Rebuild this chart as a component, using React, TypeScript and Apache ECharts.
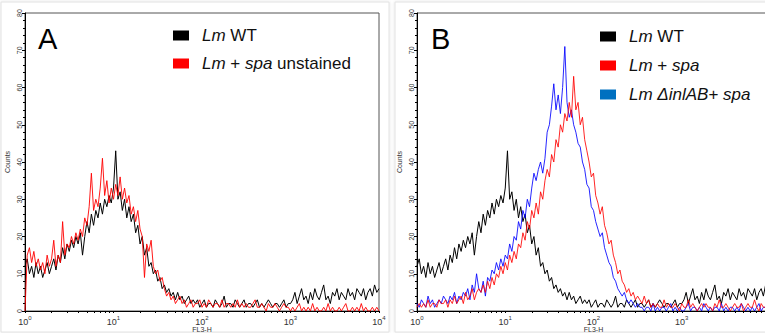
import { useEffect, useRef } from 'react';
import * as echarts from 'echarts';

// channel spacing along the FL3-H axis, in decades (log10 units)
const STEP = 0.025;
const decadesA = [0, 1, 2, 3, 4];
const decadesB = [0, 1, 2, 3];

// Lm WT (same acquisition shown in both panels)
const wtCounts = [
  12, 14, 10, 12, 9, 13, 10, 12, 9, 11,
  13, 10, 12, 14, 11, 15, 13, 17, 14, 18,
  16, 19, 17, 20, 18, 21, 15, 20, 24, 21,
  26, 23, 27, 25, 29, 26, 30, 28, 31, 29,
  33, 43, 30, 32, 27, 30, 25, 28, 24, 26,
  21, 23, 18, 20, 15, 17, 12, 13, 10, 11,
  8, 9, 6, 7, 5, 6, 4, 5, 3, 5,
  3, 4, 2, 3, 4, 2, 3, 2, 3, 1,
  2, 3, 1, 2, 2, 1, 3, 2, 1, 2,
  4, 1, 2, 2, 1, 3, 2, 1, 2, 3,
  1, 2, 2, 1, 2, 3, 1, 2, 1, 2,
  3, 2, 1, 2, 2, 1, 2, 3, 1, 2,
  2, 3, 5, 2, 4, 6, 3, 4, 2, 5,
  3, 6, 4, 3, 5, 7, 3, 4, 2, 5,
  4, 6, 3, 5, 4, 3, 6, 4, 5, 3,
  6, 5, 4, 6, 3, 5, 6, 4, 7, 5,
  6,
];

// Lm + spa unstained (panel A)
const spaUnstainedCounts = [
  0, 15, 17, 13, 16, 12, 14, 11, 13, 10,
  15, 12, 14, 19, 12, 15, 13, 24, 15, 18,
  17, 20, 18, 21, 19, 22, 20, 25, 23, 28,
  37, 27, 30, 28, 33, 41, 31, 35, 29, 33,
  30, 34, 31, 36, 30, 33, 29, 31, 26, 28,
  24, 27, 22, 20, 9, 18, 16, 19, 12, 10,
  11, 8, 9, 6, 4, 5, 3, 4, 2, 3,
  4, 2, 3, 1, 2, 3, 1, 2, 2, 3,
  1, 2, 1, 3, 2, 1, 2, 2, 1, 3,
  1, 2, 2, 1, 2, 1, 3, 1, 2, 1,
  2, 1, 1, 2, 3, 1, 1, 2, 1, 0,
  2, 1, 1, 2, 1, 0, 1, 2, 1, 1,
  0, 1, 0, 1, 2, 0, 1, 0, 1, 0,
  2, 0, 1, 0, 0, 1, 0, 2, 0, 1,
  0, 0, 1, 0, 1, 2, 0, 0, 1, 0,
  1, 0, 2, 0, 1, 0, 0, 1, 0, 1,
  0,
];

// Lm + spa (panel B)
const spaCounts = [
  1, 2, 1, 2, 1, 3, 1, 2, 2, 1,
  3, 2, 2, 3, 1, 3, 2, 4, 2, 3,
  4, 2, 5, 3, 4, 6, 3, 5, 6, 5,
  7, 5, 8, 6, 9, 7, 10, 9, 12, 10,
  13, 11, 15, 13, 16, 14, 18, 17, 21, 19,
  24, 22, 27, 25, 29, 26, 32, 30, 35, 38,
  36, 42, 40, 46, 44, 50, 48, 53, 51, 56,
  52, 63, 54, 56, 50, 52, 46, 43, 40, 36,
  37, 31, 29, 26, 28, 23, 21, 18, 19, 15,
  13, 10, 11, 8, 7, 5, 6, 4, 5, 3,
  4, 3, 2, 4, 2, 3, 1, 2, 1, 2,
  1, 1, 3, 1, 2, 1, 1, 2, 1, 0,
  2, 1, 1, 3, 1, 2, 1, 0, 1, 2,
  1, 2, 1, 1, 0, 2, 1, 3, 1, 1,
  2, 1, 0, 1, 2, 1, 1, 2, 0, 1,
  2, 1, 1, 3, 1, 0, 2, 1, 1, 2,
  1,
];

// Lm ΔinlAB + spa (panel B)
const inlABCounts = [
  2, 1, 3, 2, 1, 4, 2, 3, 1, 2,
  3, 2, 4, 3, 2, 4, 3, 5, 2, 4,
  3, 5, 4, 6, 3, 7, 5, 10, 6, 5,
  8, 4, 9, 8, 11, 10, 13, 11, 14, 12,
  15, 14, 18, 16, 20, 19, 24, 22, 27, 25,
  30, 28, 33, 37, 35, 38, 40, 37, 41, 48,
  50, 55, 61, 54, 58, 53, 60, 71, 56, 52,
  54, 50, 48, 45, 44, 40, 38, 34, 33, 28,
  27, 24, 22, 20, 21, 17, 15, 13, 12, 9,
  8, 6, 5, 4, 5, 3, 2, 3, 2, 1,
  2, 1, 1, 0, 1, 1, 0, 2, 0, 1,
  0, 1, 1, 0, 1, 2, 0, 1, 0, 1,
  0, 0, 1, 2, 0, 1, 1, 0, 1, 0,
  2, 1, 0, 1, 0, 1, 1, 0, 2, 0,
  1, 0, 1, 1, 0, 1, 0, 2, 1, 0,
  1, 0, 1, 0, 1, 2, 0, 1, 1, 0,
  1,
];

const legendLabels: Record<string, string> = {
  wtA: '{i|Lm} WT',
  spaUnstained: '{i|Lm} + {i|spa} unstained',
  wtB: '{i|Lm} WT',
  spa: '{i|Lm} + {i|spa}',
  inlAB: '{i|Lm ΔinlAB}+ {i|spa}',
};

const FONT = '"Liberation Sans", Arial, sans-serif';

const toPoints = (arr: number[]) => arr.map((v, i) => [i * STEP, v]);

export default function App() {
  const ref = useRef<HTMLDivElement>(null);

  useEffect(() => {
    if (!ref.current) return;
    const chart = echarts.init(ref.current, null, { renderer: 'svg' });

    const logTicks: number[] = [];
    for (let d = 0; d < 4; d++) {
      for (let k = 1; k <= 9; k++) logTicks.push(d + Math.log10(k));
    }
    logTicks.push(4);

    const xAxisFor = (gridIndex: number, labelValues: number[]) => ({
      type: 'value',
      gridIndex,
      min: 0,
      max: 4,
      interval: 1,
      name: 'FL3-H',
      nameLocation: 'middle',
      nameGap: 14,
      nameMoveOverlap: false,
      nameTextStyle: { fontSize: 7, lineHeight: 8, color: '#333', fontFamily: FONT },
      axisLine: { show: true, lineStyle: { color: '#000', width: 1 } },
      axisTick: { show: true, length: 2, customValues: logTicks, lineStyle: { color: '#000' } },
      axisLabel: {
        customValues: labelValues,
        margin: 4,
        formatter: (v: number) => `{b|10}{s|${v}}`,
        rich: {
          b: { fontSize: 9, color: '#333', fontFamily: FONT, verticalAlign: 'bottom' },
          s: { fontSize: 6, color: '#333', fontFamily: FONT, verticalAlign: 'bottom', padding: [0, 0, 5, 0] },
        },
      },
      splitLine: { show: false },
    });

    const yAxisFor = (gridIndex: number) => ({
      type: 'value',
      gridIndex,
      min: 0,
      max: 80,
      interval: 10,
      name: 'Counts',
      nameLocation: 'middle',
      nameGap: 14,
      nameRotate: 90,
      nameMoveOverlap: false,
      nameTextStyle: { fontSize: 7, color: '#333', fontFamily: FONT },
      axisLine: { show: true, lineStyle: { color: '#000', width: 1 } },
      axisTick: { show: true, length: 3, lineStyle: { color: '#000' } },
      minorTick: { show: true, splitNumber: 5, length: 2, lineStyle: { color: '#000' } },
      axisLabel: { rotate: 90, fontSize: 7, margin: 2, color: '#333', fontFamily: FONT },
      splitLine: { show: false },
      minorSplitLine: { show: false },
    });

    const lineSeries = (name: string, data: number[], color: string, idx: number, opacity = 1) => ({
      name,
      type: 'line',
      xAxisIndex: idx,
      yAxisIndex: idx,
      data: toPoints(data),
      showSymbol: false,
      symbol: 'none',
      lineStyle: { color, width: 1, opacity },
      itemStyle: { color },
      silent: true,
    });

    const legendBase = {
      orient: 'vertical',
      icon: 'rect',
      itemWidth: 16,
      itemHeight: 10,
      selectedMode: false,
      padding: 0,
      formatter: (name: string) => legendLabels[name],
      textStyle: {
        fontSize: 17,
        color: '#111',
        fontFamily: FONT,
        padding: [0, 0, 0, 8],
        rich: { i: { fontSize: 17, fontStyle: 'italic', color: '#111', fontFamily: FONT } },
      },
    };

    chart.setOption({
      animation: false,
      backgroundColor: '#ffffff',
      graphic: [
        {
          type: 'rect',
          z: -5,
          shape: { x: 1, y: 2, width: 388, height: 330 },
          style: { fill: '#fff', stroke: '#e2e2e2', lineWidth: 1, shadowBlur: 3, shadowColor: 'rgba(0,0,0,0.12)' },
        },
        {
          type: 'rect',
          z: -5,
          shape: { x: 395, y: 2, width: 380, height: 330 },
          style: { fill: '#fff', stroke: '#e2e2e2', lineWidth: 1, shadowBlur: 3, shadowColor: 'rgba(0,0,0,0.12)' },
        },
        {
          type: 'text',
          left: 38,
          top: 24,
          style: { text: 'A', fontSize: 29, fill: '#000', fontFamily: FONT },
        },
        {
          type: 'text',
          left: 431,
          top: 24,
          style: { text: 'B', fontSize: 29, fill: '#000', fontFamily: FONT },
        },
      ],
      grid: [
        { left: 25, top: 13, width: 354, height: 298, outerBoundsMode: 'none', containLabel: false, show: true, borderColor: '#555', borderWidth: 1, backgroundColor: 'transparent' },
        { left: 417, top: 13, width: 353, height: 298, outerBoundsMode: 'none', containLabel: false, show: true, borderColor: '#555', borderWidth: 1, backgroundColor: 'transparent' },
      ],
      xAxis: [xAxisFor(0, decadesA), xAxisFor(1, decadesB)],
      yAxis: [yAxisFor(0), yAxisFor(1)],
      legend: [
        {
          ...legendBase,
          left: 173,
          top: 27,
          itemGap: 11,
          data: [
            { name: 'wtA', itemStyle: { color: '#000' } },
            { name: 'spaUnstained', itemStyle: { color: '#ff0000' } },
          ],
        },
        {
          ...legendBase,
          left: 600,
          top: 28,
          itemGap: 12,
          data: [
            { name: 'wtB', itemStyle: { color: '#000' } },
            { name: 'spa', itemStyle: { color: '#ff0000' } },
            { name: 'inlAB', itemStyle: { color: '#0070c0' } },
          ],
        },
      ],
      series: [
        lineSeries('wtA', wtCounts, '#000000', 0),
        lineSeries('spaUnstained', spaUnstainedCounts, '#ff0000', 0, 0.9),
        lineSeries('wtB', wtCounts, '#000000', 1),
        lineSeries('inlAB', inlABCounts, '#0000ff', 1, 0.85),
        lineSeries('spa', spaCounts, '#ff0000', 1, 0.85),
      ],
    });

    return () => chart.dispose();
  }, []);

  return (
    <div
      ref={ref}
      style={{ position: 'fixed', left: 0, top: 0, width: 765, height: 333, background: '#fff' }}
    />
  );
}
